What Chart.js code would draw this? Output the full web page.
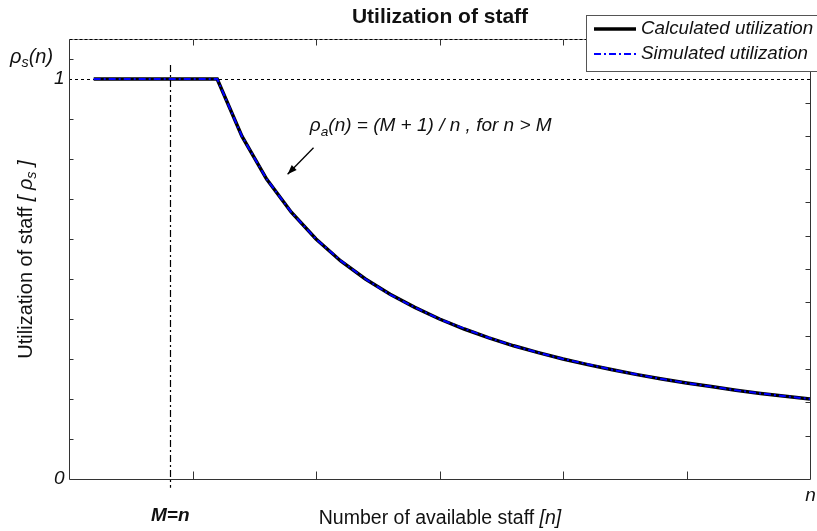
<!DOCTYPE html>
<html>
<head>
<meta charset="utf-8">
<script src="https://cdn.jsdelivr.net/npm/chart.js@4.4.1/dist/chart.umd.min.js"></script>
<style>
  html, body { margin: 0; padding: 0; background: #fff; }
  canvas { display: block; }
</style>
</head>
<body>
<canvas id="chart" width="817" height="531"></canvas>
<script>
// --- data ---
const staff = [1, 2, 3, 4, 5, 6, 7, 8, 9, 10, 11, 12, 13, 14, 15, 16, 17, 18, 19, 20, 21, 22, 23, 24, 25, 26, 27, 28, 29, 30];
const calculated = [1, 1, 1, 1, 1, 1, 0.857, 0.75, 0.667, 0.6, 0.545, 0.5, 0.462, 0.429, 0.4, 0.375, 0.353, 0.333, 0.316, 0.3, 0.286, 0.273, 0.261, 0.25, 0.24, 0.231, 0.222, 0.214, 0.207, 0.2];
const simulated = [1, 1, 1, 1, 1, 1, 0.857, 0.75, 0.667, 0.6, 0.546, 0.5, 0.461, 0.429, 0.4, 0.376, 0.353, 0.333, 0.316, 0.3, 0.287, 0.273, 0.261, 0.25, 0.24, 0.231, 0.222, 0.214, 0.207, 0.2];
const xTicks = [5, 10, 15, 20, 25];
const yTicks = [0.1, 0.2, 0.3, 0.4, 0.5, 0.6, 0.7, 0.8, 0.9, 1.05];
const rightTicks = [0.108, 0.192, 0.275, 0.358, 0.442, 0.525, 0.608, 0.692, 0.775, 0.857, 0.94, 1.023];
const yLabels = [{ value: 1, text: '1' }, { value: 0, text: '0' }];
const mLine = 4.1;          // position of the M=n marker
const mLineSpan = [-0.022, 1.035];

const FONT = '"Liberation Sans", Arial, sans-serif';
const TEXT = '#111';

// formula annotation, in data units
const annot = { textX: 9.75, textY: 0.882, arrowFrom: [9.9, 0.828], arrowTo: [8.85, 0.762] };

function toPts(xs, ys) {
    return xs.map((x, i) => ({ x: x, y: ys[i] }));
}

// Draws a run of text pieces; pieces may be subscript or italic
function drawRuns(ctx, x, y, runs, size) {
    let cx = x;
    for (const r of runs) {
        const s = r.sub ? size * 0.72 : size;
        ctx.font = `${r.bold ? 'bold ' : ''}${r.italic ? 'italic ' : ''}${s}px ${FONT}`;
        ctx.fillText(r.t, cx, y + (r.sub ? size * 0.3 : 0));
        cx += ctx.measureText(r.t).width;
    }
    return cx - x;
}
function runsWidth(ctx, runs, size) {
    let w = 0;
    for (const r of runs) {
        const s = r.sub ? size * 0.72 : size;
        ctx.font = `${r.bold ? 'bold ' : ''}${r.italic ? 'italic ' : ''}${s}px ${FONT}`;
        w += ctx.measureText(r.t).width;
    }
    return w;
}

const backdrop = {
    id: 'backdrop',
    beforeDatasetsDraw(chart) {
        const { ctx, chartArea: a, scales: { x, y } } = chart;
        ctx.save();
        // dashed reference line at rho = 1
        ctx.strokeStyle = '#000';
        ctx.lineWidth = 1;
        ctx.setLineDash([3, 3]);
        const y1 = Math.round(y.getPixelForValue(1)) + 0.5;
        ctx.beginPath();
        ctx.moveTo(a.left, y1);
        ctx.lineTo(a.right, y1);
        ctx.stroke();
        // M=n marker
        ctx.setLineDash([7, 3, 2, 3]);
        ctx.lineWidth = 1.2;
        const mx = Math.round(x.getPixelForValue(mLine)) + 0.5;
        ctx.beginPath();
        ctx.moveTo(mx, y.getPixelForValue(mLineSpan[1]));
        ctx.lineTo(mx, y.getPixelForValue(mLineSpan[0]));
        ctx.stroke();
        ctx.restore();
    }
};

const frame = {
    id: 'frame',
    afterDraw(chart) {
        const { ctx, chartArea: a, scales: { x, y } } = chart;
        const L = a.left + 0.5, R = Math.round(a.right) + 0.5, T = Math.round(a.top) + 0.5, B = Math.round(a.bottom) + 0.5;
        ctx.save();
        ctx.strokeStyle = '#333';
        ctx.lineWidth = 1;
        // axes box
        ctx.beginPath();
        ctx.moveTo(L, T); ctx.lineTo(L, B); ctx.lineTo(R, B); ctx.lineTo(R, T);
        ctx.stroke();
        ctx.strokeStyle = '#999';
        ctx.beginPath(); ctx.moveTo(L, T); ctx.lineTo(R, T); ctx.stroke();
        ctx.strokeStyle = '#000';
        ctx.setLineDash([3, 2]);
        ctx.beginPath(); ctx.moveTo(L, T); ctx.lineTo(R, T); ctx.stroke();
        ctx.setLineDash([]);
        ctx.strokeStyle = '#333';
        // inward ticks
        ctx.beginPath();
        for (const v of xTicks) {
            const px = Math.round(x.getPixelForValue(v)) + 0.5;
            ctx.moveTo(px, B); ctx.lineTo(px, B - 8);
            ctx.moveTo(px, T); ctx.lineTo(px, T + 6);
        }
        for (const v of yTicks) {
            const py = Math.round(y.getPixelForValue(v)) + 0.5;
            ctx.moveTo(L, py); ctx.lineTo(L + 4, py);
        }
        for (const v of rightTicks) {
            const py = Math.round(y.getPixelForValue(v)) + 0.5;
            ctx.moveTo(R, py); ctx.lineTo(R - 5, py);
        }
        ctx.stroke();

        ctx.fillStyle = TEXT;
        ctx.textBaseline = 'middle';
        // y value labels
        ctx.textAlign = 'right';
        ctx.font = `italic 19px ${FONT}`;
        for (const l of yLabels) ctx.fillText(l.text, L - 5, y.getPixelForValue(l.value));
        // "n" at end of x axis, "M=n" under the marker
        ctx.textAlign = 'center';
        ctx.fillText('n', R, B + 16);
        ctx.font = `bold italic 19px ${FONT}`;
        ctx.fillText('M=n', x.getPixelForValue(mLine), B + 36);

        // title
        ctx.font = `bold 21px ${FONT}`;
        ctx.fillText('Utilization of staff', (L + R) / 2, 17);

        // x axis title
        ctx.textAlign = 'left';
        const xt = [{ t: 'Number of available staff ' }, { t: '[n]', italic: true }];
        const xw = runsWidth(ctx, xt, 19.5);
        drawRuns(ctx, (L + R) / 2 - xw / 2, B + 39, xt, 19.5);

        // rho_s(n) at the top of the y axis
        drawRuns(ctx, 10, 57, [{ t: 'ρ', italic: true }, { t: 's', italic: true, sub: true }, { t: '(n)', italic: true }], 20);

        // y axis title (rotated)
        ctx.save();
        ctx.translate(26, (T + B) / 2);
        ctx.rotate(-Math.PI / 2);
        const yt = [{ t: 'Utilization of staff ' }, { t: '[ ', italic: true }, { t: 'ρ', italic: true }, { t: 's', italic: true, sub: true }, { t: ' ]', italic: true }];
        const yw = runsWidth(ctx, yt, 20);
        drawRuns(ctx, -yw / 2, 0, yt, 20);
        ctx.restore();

        // formula + arrow
        const tx = x.getPixelForValue(annot.textX), ty = y.getPixelForValue(annot.textY);
        drawRuns(ctx, tx, ty, [
            { t: 'ρ', italic: true }, { t: 'a', italic: true, sub: true },
            { t: '(n) = (M + 1) / n , for n > M', italic: true }
        ], 19);
        const ax0 = x.getPixelForValue(annot.arrowFrom[0]), ay0 = y.getPixelForValue(annot.arrowFrom[1]);
        const ax1 = x.getPixelForValue(annot.arrowTo[0]), ay1 = y.getPixelForValue(annot.arrowTo[1]);
        ctx.strokeStyle = '#000';
        ctx.lineWidth = 1.3;
        ctx.beginPath(); ctx.moveTo(ax0, ay0); ctx.lineTo(ax1, ay1); ctx.stroke();
        const ang = Math.atan2(ay1 - ay0, ax1 - ax0);
        ctx.fillStyle = '#000';
        ctx.beginPath();
        ctx.moveTo(ax1, ay1);
        ctx.lineTo(ax1 - 10 * Math.cos(ang - 0.35), ay1 - 10 * Math.sin(ang - 0.35));
        ctx.lineTo(ax1 - 10 * Math.cos(ang + 0.35), ay1 - 10 * Math.sin(ang + 0.35));
        ctx.closePath();
        ctx.fill();

        // legend box, partly off the canvas like the original
        const ds = chart.data.datasets;
        ctx.fillStyle = '#fff';
        ctx.fillRect(586, 15, 240, 56);
        ctx.strokeStyle = '#555';
        ctx.lineWidth = 1;
        ctx.strokeRect(586.5, 15.5, 240, 56);
        ds.forEach((d, i) => {
            const ly = 29 + i * 25;
            ctx.strokeStyle = d.borderColor;
            ctx.lineWidth = d.borderWidth;
            ctx.setLineDash(d.borderDash || []);
            ctx.beginPath(); ctx.moveTo(594, ly); ctx.lineTo(636, ly); ctx.stroke();
            ctx.setLineDash([]);
            ctx.fillStyle = TEXT;
            ctx.font = `italic 18.8px ${FONT}`;
            ctx.textAlign = 'left';
            ctx.fillText(d.label, 641, ly);
        });
        ctx.restore();
    }
};

new Chart(document.getElementById('chart'), {
    type: 'line',
    data: {
        datasets: [
            { label: 'Calculated utilization', data: toPts(staff, calculated), borderColor: '#000', borderWidth: 3.5, pointRadius: 0, tension: 0, order: 1 },
            { label: 'Simulated utilization', data: toPts(staff, simulated), borderColor: '#0000ff', borderWidth: 2, borderDash: [7, 3, 2, 3], pointRadius: 0, tension: 0, order: 0 }
        ]
    },
    options: {
        responsive: false,
        animation: false,
        layout: { padding: { left: 69, right: 7, top: 39, bottom: 52 } },
        scales: {
            x: { type: 'linear', min: 0, max: 30, display: false },
            y: { min: 0, max: 1.1, display: false }
        },
        plugins: { legend: { display: false }, tooltip: { enabled: false } }
    },
    plugins: [backdrop, frame]
});
</script>
</body>
</html>
